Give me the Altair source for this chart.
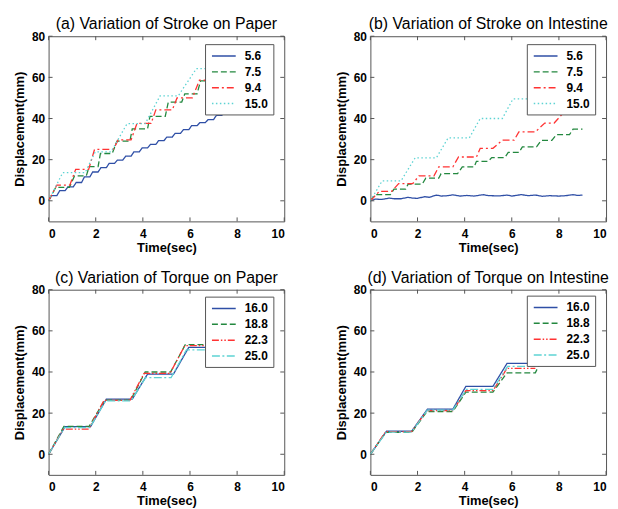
import altair as alt
import pandas as pd

FONT = "Liberation Sans"
X_TICKS = [0, 2, 4, 6, 8, 10]
Y_TICKS = [0, 20, 40, 60, 80]

STROKE_LABELS = ["5.6", "7.5", "9.4", "15.0"]
TORQUE_LABELS = ["16.0", "18.8", "22.3", "25.0"]
COLORS = ["#2f4fa6", "#23883f", "#ff3333", "#5dd3d3"]
DASH_STROKE = [[1, 0], [6, 3], [7, 3, 2, 3], [1.5, 2.5]]
DASH_TORQUE = [[1, 0], [6, 3], [7, 2, 1.5, 2, 1.5, 2], [8, 2.5, 2, 2.5]]

# ---- (a) Variation of Stroke on Paper: rise start, rise end, level after rise, stop time
a56_start = [0.0, 0.35, 0.70, 1.05, 1.40, 1.75, 2.10, 2.45, 2.80, 3.15, 3.50, 3.85,
             4.20, 4.55, 4.90, 5.25, 5.60, 5.95, 6.30, 6.65, 7.00, 7.35, 7.70, 8.05]
a56_end = [0.12, 0.47, 0.82, 1.17, 1.52, 1.87, 2.22, 2.57, 2.92, 3.27, 3.62, 3.97,
           4.32, 4.67, 5.02, 5.37, 5.72, 6.07, 6.42, 6.77, 7.12, 7.47, 7.82, 8.17]
a56_level = [2.5, 4.9, 6.8, 8.9, 11.6, 14.0, 16.1, 18.2, 19.8, 21.7, 23.8, 25.7,
             27.4, 29.3, 31.0, 32.8, 34.6, 36.5, 38.0, 39.5, 41.5, 43.0, 44.5, 46.0]
a56_stop = 8.3

a75_start = [0.0, 0.88, 1.60, 2.10, 2.70, 3.45, 4.20, 4.95, 5.65, 6.30, 7.00]
a75_end = [0.30, 1.10, 1.72, 2.20, 2.90, 3.55, 4.30, 5.08, 5.78, 6.45, 7.15]
a75_level = [6.5, 12.1, 16.6, 23.0, 29.0, 35.0, 41.0, 48.0, 52.0, 58.3, 63.5]
a75_stop = 7.6

a94_start = [0.0, 0.90, 1.70, 2.75, 3.50, 4.35, 5.25, 6.10, 6.95]
a94_end = [0.35, 1.15, 1.95, 2.95, 3.75, 4.55, 5.45, 6.40, 7.20]
a94_level = [7.6, 15.3, 25.0, 29.6, 37.6, 44.2, 50.0, 58.6, 64.0]
a94_stop = 7.6

a150_start = [0.0, 1.55, 2.65, 4.10, 5.50]
a150_end = [0.60, 1.98, 3.33, 4.73, 6.27]
a150_level = [13.7, 23.8, 37.5, 51.0, 64.2]
a150_stop = 7.2

# ---- (b) Variation of Stroke on Intestine
b56_t = [0, 0.2, 0.5, 0.8, 1.0, 1.3, 1.6, 1.8, 2.0, 2.3, 2.5, 2.8, 3.0, 3.3, 3.5, 3.8,
         4.1, 4.4, 4.8, 5.0, 5.5, 5.8, 6.0, 6.4, 6.7, 7.0, 7.3, 7.6, 8.0, 8.3, 8.6, 8.8, 9.0]
b56_d = [0, 0.8, 0.7, 1.3, 1.0, 1.0, 1.7, 1.3, 1.2, 2.0, 1.7, 2.8, 2.3, 2.5, 2.9, 2.3,
         2.6, 2.3, 3.0, 2.5, 2.4, 2.8, 2.3, 3.0, 2.5, 2.8, 2.2, 2.5, 2.3, 2.5, 3.0, 2.6, 2.8]

b75_start = [0.0, 0.85, 1.50, 2.20, 2.90, 3.70, 4.40, 5.00, 5.70, 6.30, 7.05, 7.70, 8.45]
b75_end = [0.20, 1.00, 1.60, 2.35, 3.00, 3.90, 4.50, 5.15, 5.85, 6.45, 7.25, 7.90, 8.60]
b75_level = [3.0, 5.7, 8.1, 11.0, 13.2, 16.5, 19.2, 21.0, 23.5, 26.2, 29.4, 32.2, 34.8]
b75_stop = 9.0

b94_start = [0.0, 0.90, 1.80, 2.70, 3.50, 4.50, 5.20, 6.10, 7.00, 7.80, 8.80]
b94_end = [0.38, 1.20, 2.06, 2.90, 3.74, 4.66, 5.60, 6.30, 7.40, 8.15, 9.00]
b94_level = [4.6, 8.4, 12.1, 16.5, 21.3, 25.5, 29.5, 33.5, 37.8, 42.3, 45.5]
b94_stop = 9.0

b150_start = [0.0, 1.30, 2.80, 4.20, 5.60, 7.00, 8.40]
b150_end = [0.50, 1.90, 3.30, 4.66, 6.05, 7.45, 8.85]
b150_level = [9.7, 20.9, 30.6, 40.0, 49.5, 59.0, 68.5]
b150_stop = 9.0

# ---- (c) Variation of Torque on Paper
c160_start = [0.0, 1.78, 3.55, 5.30]
c160_end = [0.70, 2.45, 4.20, 5.95]
c160_level = [13.4, 26.8, 39.0, 52.0]
c188_start = [0.0, 1.72, 3.48, 5.18]
c188_end = [0.65, 2.38, 4.10, 5.80]
c188_level = [13.6, 26.3, 40.0, 53.3]
c223_start = [0.0, 1.70, 3.45, 5.15]
c223_end = [0.62, 2.35, 4.05, 5.78]
c223_level = [12.2, 26.2, 39.3, 52.8]
c250_start = [0.0, 1.75, 3.50, 5.20]
c250_end = [0.68, 2.42, 4.12, 5.85]
c250_level = [13.0, 26.0, 37.3, 50.8]
c_stop = 7.0

# ---- (d) Variation of Torque on Intestine
d160_start = [0.0, 1.75, 3.50, 5.20]
d160_end = [0.68, 2.42, 4.05, 5.80]
d160_level = [11.2, 21.9, 33.0, 44.2]
d188_start = [0.0, 1.75, 3.50, 5.20, 7.00]
d188_end = [0.65, 2.40, 4.05, 5.80, 7.25]
d188_level = [10.6, 20.8, 30.2, 39.6, 45.5]
d223_start = [0.0, 1.75, 3.50, 5.20]
d223_end = [0.65, 2.40, 4.05, 5.80]
d223_level = [11.0, 21.2, 30.9, 41.8]
d250_start = [0.0, 1.75, 3.50, 5.20]
d250_end = [0.68, 2.42, 4.08, 5.82]
d250_level = [10.8, 21.5, 31.6, 42.7]
d_stop = 7.0


def stairs(start, end, level, stop):
    t, d, prev = [0.0], [0.0], 0.0
    for s, e, lv in zip(start, end, level):
        t += [s, e]
        d += [prev, lv]
        prev = lv
    t.append(stop)
    d.append(prev)
    return t, d


W, H = 238, 187
XS = alt.Scale(domain=[0, 10], nice=False, zero=False)
YS = alt.Scale(domain=[-10, 80], nice=False, zero=False)
FRAME = "#555555"
AXIS_STYLE = dict(
    labelFont=FONT, labelFontSize=12, labelFontWeight="bold", labelColor="black",
    titleFont=FONT, titleFontSize=13, titleFontWeight="bold", titleColor="black",
    ticks=False, domain=False, grid=False,
)
AX_X = alt.Axis(values=X_TICKS, title="Time(sec)", labelPadding=7, titlePadding=2, **AXIS_STYLE)
AX_Y = alt.Axis(values=Y_TICKS, title="Displacement(mm)", labelPadding=4, titlePadding=5, **AXIS_STYLE)


def panel(title, labels, series, dashes, lx, ly, pad_label):
    rows = []
    for lab, (t, d) in zip(labels, series):
        for i, (ti, di) in enumerate(zip(t, d)):
            rows.append({"t": ti, "d": di, "s": lab, "i": i})
    df = pd.DataFrame(rows)
    leg = alt.Legend(
        title=None, orient="none", legendX=lx, legendY=ly,
        fillColor="white", strokeColor=FRAME, padding=5,
        labelFont=FONT, labelFontSize=12, labelFontWeight="bold", labelColor="black",
        labelExpr="datum.label + '" + pad_label + "'",
        symbolType="M-2,0H2", symbolSize=144, symbolStrokeWidth=1.5,
        symbolFillColor="transparent", symbolOffset=7,
        labelOffset=14, rowPadding=3, zindex=1,
    )
    lines = alt.Chart(df).mark_line(strokeWidth=1.3).encode(
        x=alt.X("t:Q", scale=XS, axis=AX_X),
        y=alt.Y("d:Q", scale=YS, axis=AX_Y),
        color=alt.Color("s:N", scale=alt.Scale(domain=labels, range=COLORS), legend=leg),
        strokeDash=alt.StrokeDash("s:N", scale=alt.Scale(domain=labels, range=dashes), legend=leg),
        order="i:Q",
    )
    xt = pd.DataFrame({"t": X_TICKS})
    yt = pd.DataFrame({"d": Y_TICKS})
    tb = alt.Chart(xt).mark_rule(color=FRAME).encode(
        x=alt.X("t:Q", scale=XS, axis=AX_X), y=alt.value(H), y2=alt.value(H - 4))
    tt = alt.Chart(xt).mark_rule(color=FRAME).encode(
        x=alt.X("t:Q", scale=XS, axis=AX_X), y=alt.value(0), y2=alt.value(4))
    tl = alt.Chart(yt).mark_rule(color=FRAME).encode(
        y=alt.Y("d:Q", scale=YS, axis=AX_Y), x=alt.value(0), x2=alt.value(4))
    tr = alt.Chart(yt).mark_rule(color=FRAME).encode(
        y=alt.Y("d:Q", scale=YS, axis=AX_Y), x=alt.value(W), x2=alt.value(W - 4))
    return alt.layer(lines, tb, tt, tl, tr).properties(
        width=W, height=H,
        title=alt.TitleParams(title, font=FONT, fontSize=16, fontWeight="normal",
                              color="black", frame="group", anchor="middle", offset=-2),
    )


NB3 = "\u00a0\u00a0\u00a0"
NB1 = "\u00a0"

pa = panel("(a) Variation of Stroke on Paper", STROKE_LABELS, [
    stairs(a56_start, a56_end, a56_level, a56_stop),
    stairs(a75_start, a75_end, a75_level, a75_stop),
    stairs(a94_start, a94_end, a94_level, a94_stop),
    stairs(a150_start, a150_end, a150_level, a150_stop),
], DASH_STROKE, 158, 8, NB3)

pb = panel("(b) Variation of Stroke on Intestine", STROKE_LABELS, [
    (b56_t, b56_d),
    stairs(b75_start, b75_end, b75_level, b75_stop),
    stairs(b94_start, b94_end, b94_level, b94_stop),
    stairs(b150_start, b150_end, b150_level, b150_stop),
], DASH_STROKE, 158, 8, NB1)

pc = panel("(c) Variation of Torque on Paper", TORQUE_LABELS, [
    stairs(c160_start, c160_end, c160_level, c_stop),
    stairs(c188_start, c188_end, c188_level, c_stop),
    stairs(c223_start, c223_end, c223_level, c_stop),
    stairs(c250_start, c250_end, c250_level, c_stop),
], DASH_TORQUE, 158, 7, NB3)

pdd = panel("(d) Variation of Torque on Intestine", TORQUE_LABELS, [
    stairs(d160_start, d160_end, d160_level, d_stop),
    stairs(d188_start, d188_end, d188_level, d_stop),
    stairs(d223_start, d223_end, d223_level, d_stop),
    stairs(d250_start, d250_end, d250_level, d_stop),
], DASH_TORQUE, 158, 6, NB1)

chart = alt.concat(
    pa, pb, pc, pdd, columns=2, spacing={"row": 69, "column": 87}, bounds="flush"
).resolve_scale(
    color="independent", strokeDash="independent", x="independent", y="independent"
).properties(
    padding={"left": 5, "top": 5, "right": 0, "bottom": 0}, background="white"
).configure_view(
    stroke=FRAME, strokeWidth=1
)

chart.save("out.html", embed_options={"renderer": "svg", "actions": False})
